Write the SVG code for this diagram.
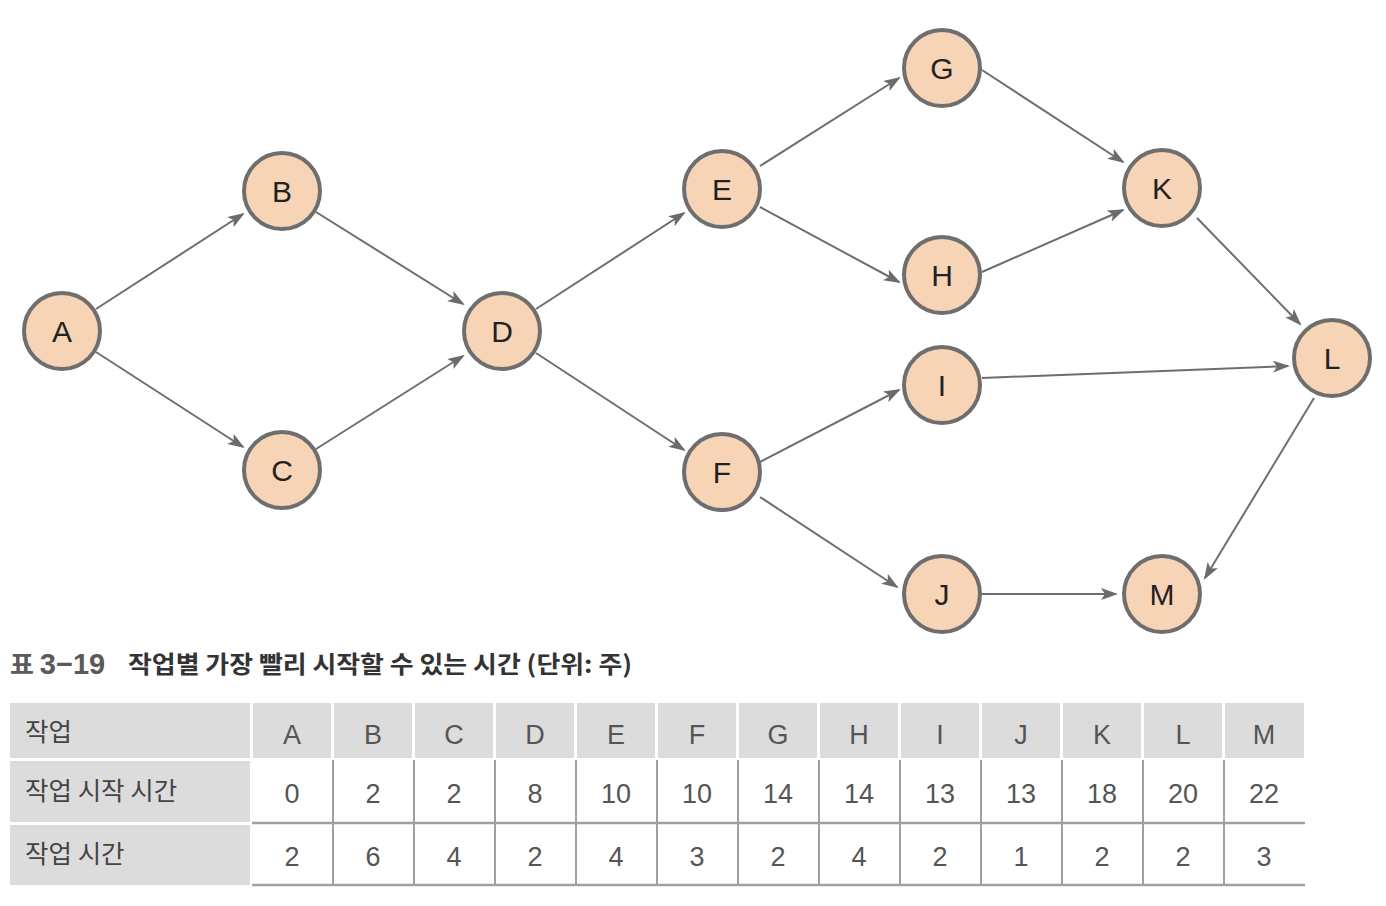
<svg xmlns="http://www.w3.org/2000/svg" width="1386" height="906" viewBox="0 0 1386 906">
<defs>
<marker id="arr" markerUnits="userSpaceOnUse" markerWidth="18" markerHeight="14" refX="15" refY="6" orient="auto">
<path d="M0,0 L17,6 L0,12 L4,6 z" fill="#6b6b6b"/>
</marker>
</defs>
<style>
.node circle{fill:#f8d4b7;stroke:#6e6e6e;stroke-width:4}
.node text{font-family:"Liberation Sans",Arial,sans-serif;font-size:30px;fill:#222;text-anchor:middle}
#edges line{stroke:#6e6e6e;stroke-width:2;marker-end:url(#arr)}
.hd{fill:#dcdcdd}
.vl{stroke:#a0a0a0;stroke-width:2}
.hl{stroke:#a0a0a0;stroke-width:2.5}
.cv{font-family:"Liberation Sans",Arial,sans-serif;font-size:27px;fill:#555;text-anchor:middle}
.lb{font-family:"Noto Sans CJK KR","Noto Sans",sans-serif;font-size:25.5px;fill:#444}
.tt{font-family:"Noto Sans CJK KR","Noto Sans",sans-serif;font-size:24px;font-weight:bold;fill:#333}
</style>
<rect width="1386" height="906" fill="#fff"/>
<g id="edges">
<line x1="96" y1="309" x2="243" y2="214"/>
<line x1="96" y1="352" x2="243" y2="447"/>
<line x1="316" y1="212" x2="463" y2="304"/>
<line x1="316" y1="449" x2="463" y2="356"/>
<line x1="536" y1="309" x2="684" y2="213"/>
<line x1="536" y1="353" x2="684" y2="450"/>
<line x1="760" y1="166" x2="899" y2="78"/>
<line x1="760" y1="207" x2="899" y2="282"/>
<line x1="760" y1="462" x2="899" y2="390"/>
<line x1="760" y1="497" x2="897" y2="587"/>
<line x1="982" y1="70" x2="1123" y2="162"/>
<line x1="982" y1="272" x2="1123" y2="210"/>
<line x1="1197" y1="218" x2="1300" y2="324"/>
<line x1="982" y1="378" x2="1288" y2="366"/>
<line x1="1314" y1="398" x2="1205" y2="578"/>
<line x1="982" y1="594" x2="1116" y2="594"/>
</g>
<g id="node-A" class="node"><circle cx="62" cy="331" r="38"/><text x="62" y="342">A</text></g>
<g id="node-B" class="node"><circle cx="282" cy="191" r="38"/><text x="282" y="202">B</text></g>
<g id="node-C" class="node"><circle cx="282" cy="470" r="38"/><text x="282" y="481">C</text></g>
<g id="node-D" class="node"><circle cx="502" cy="331" r="38"/><text x="502" y="342">D</text></g>
<g id="node-E" class="node"><circle cx="722" cy="189" r="38"/><text x="722" y="200">E</text></g>
<g id="node-F" class="node"><circle cx="722" cy="472" r="38"/><text x="722" y="483">F</text></g>
<g id="node-G" class="node"><circle cx="942" cy="68" r="38"/><text x="942" y="79">G</text></g>
<g id="node-H" class="node"><circle cx="942" cy="275" r="38"/><text x="942" y="286">H</text></g>
<g id="node-I" class="node"><circle cx="942" cy="385" r="38"/><text x="942" y="396">I</text></g>
<g id="node-J" class="node"><circle cx="942" cy="594" r="38"/><text x="942" y="605">J</text></g>
<g id="node-K" class="node"><circle cx="1162" cy="188" r="38"/><text x="1162" y="199">K</text></g>
<g id="node-L" class="node"><circle cx="1332" cy="358" r="38"/><text x="1332" y="369">L</text></g>
<g id="node-M" class="node"><circle cx="1162" cy="594" r="38"/><text x="1162" y="605">M</text></g>
<g id="title">
<text x="10" y="674" class="tt" style="fill:#5a5a5a;font-size:26px">표 <tspan font-family="Liberation Sans" font-size="29">3−19</tspan></text>
<text x="128" y="673" class="tt" textLength="504" lengthAdjust="spacingAndGlyphs">작업별 가장 빨리 시작할 수 있는 시간 (단위: 주)</text>
</g>
<g id="table">
<rect class="hd" x="10" y="703" width="240" height="55"/>
<rect class="hd" x="10" y="761" width="240" height="61"/>
<rect class="hd" x="10" y="825" width="240" height="60"/>
<g class="hd">
<rect x="253" y="703" width="78" height="55"/><rect x="334" y="703" width="78" height="55"/><rect x="415" y="703" width="78" height="55"/><rect x="496" y="703" width="78" height="55"/><rect x="577" y="703" width="78" height="55"/><rect x="658" y="703" width="78" height="55"/><rect x="739" y="703" width="78" height="55"/><rect x="820" y="703" width="78" height="55"/><rect x="901" y="703" width="78" height="55"/><rect x="982" y="703" width="78" height="55"/><rect x="1063" y="703" width="78" height="55"/><rect x="1144" y="703" width="78" height="55"/><rect x="1225" y="703" width="79" height="55"/>
</g>
<g class="vl">
<line x1="333" y1="760" x2="333" y2="885"/><line x1="414" y1="760" x2="414" y2="885"/><line x1="495" y1="760" x2="495" y2="885"/><line x1="576" y1="760" x2="576" y2="885"/><line x1="657" y1="760" x2="657" y2="885"/><line x1="738" y1="760" x2="738" y2="885"/><line x1="819" y1="760" x2="819" y2="885"/><line x1="900" y1="760" x2="900" y2="885"/><line x1="981" y1="760" x2="981" y2="885"/><line x1="1062" y1="760" x2="1062" y2="885"/><line x1="1143" y1="760" x2="1143" y2="885"/><line x1="1224" y1="760" x2="1224" y2="885"/>
</g>
<line class="hl" x1="252" y1="823" x2="1305" y2="823"/>
<line class="hl" x1="252" y1="885" x2="1305" y2="885"/>
<text class="lb" x="25" y="741">작업</text>
<text class="lb" x="25" y="800">작업 시작 시간</text>
<text class="lb" x="25" y="863">작업 시간</text>
<g class="cv">
<text x="292" y="744">A</text><text x="373" y="744">B</text><text x="454" y="744">C</text><text x="535" y="744">D</text><text x="616" y="744">E</text><text x="697" y="744">F</text><text x="778" y="744">G</text><text x="859" y="744">H</text><text x="940" y="744">I</text><text x="1021" y="744">J</text><text x="1102" y="744">K</text><text x="1183" y="744">L</text><text x="1264" y="744">M</text>
<text x="292" y="803">0</text><text x="373" y="803">2</text><text x="454" y="803">2</text><text x="535" y="803">8</text><text x="616" y="803">10</text><text x="697" y="803">10</text><text x="778" y="803">14</text><text x="859" y="803">14</text><text x="940" y="803">13</text><text x="1021" y="803">13</text><text x="1102" y="803">18</text><text x="1183" y="803">20</text><text x="1264" y="803">22</text>
<text x="292" y="866">2</text><text x="373" y="866">6</text><text x="454" y="866">4</text><text x="535" y="866">2</text><text x="616" y="866">4</text><text x="697" y="866">3</text><text x="778" y="866">2</text><text x="859" y="866">4</text><text x="940" y="866">2</text><text x="1021" y="866">1</text><text x="1102" y="866">2</text><text x="1183" y="866">2</text><text x="1264" y="866">3</text>
</g>
</g>
</svg>
